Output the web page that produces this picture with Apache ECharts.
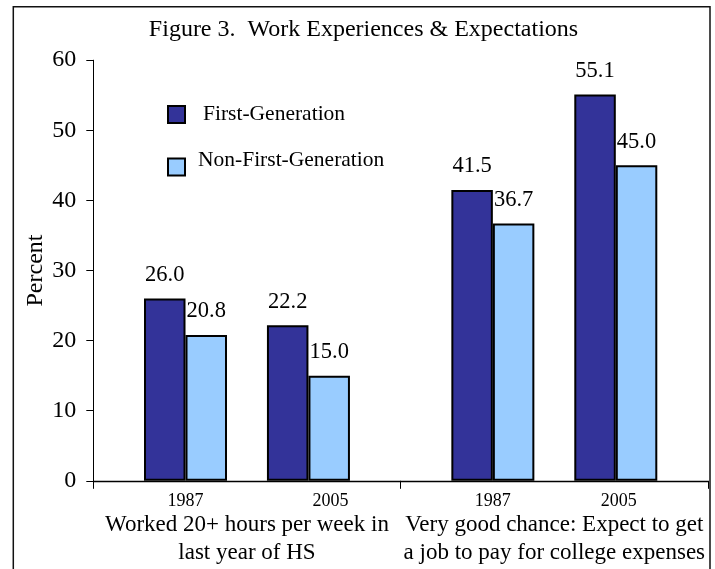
<!DOCTYPE html>
<html>
<head>
<meta charset="utf-8">
<script src="https://cdn.jsdelivr.net/npm/echarts@6/dist/echarts.min.js"></script>
<style>
html,body{margin:0;padding:0;background:#fff;}
#chart{width:715px;height:569px;}
</style>
</head>
<body>
<div id="chart"></div>
<script>
// ---- data ----
const titleText = 'Figure 3.  Work Experiences & Expectations';
const years = ['1987', '2005', '1987', '2005'];
const groupLabels = ['Worked 20+ hours per week in\nlast year of HS', 'Very good chance: Expect to get\na job to pay for college expenses'];
const seriesNames = ['First-Generation', 'Non-First-Generation'];
const firstGen = [26.0, 22.2, 41.5, 55.1];
const nonFirstGen = [20.8, 15.0, 36.7, 45.0];
const yTicks = [0, 10, 20, 30, 40, 50, 60];

// ---- layout (slot positions on a 10-slot category band) ----
const SLOT_COUNT = 10;
const slots = [1, 3, 6, 8];
const yearLabelShift = [0, 44, 0, 6]; // left padding to nudge year labels as in the source

const axisData = new Array(SLOT_COUNT).fill('');
slots.forEach((s, i) => {
  axisData[s] = { value: years[i], textStyle: { padding: [0, 0, 0, yearLabelShift[i]] } };
});
function place(vals) {
  const arr = new Array(SLOT_COUNT).fill('-');
  slots.forEach((s, i) => { arr[s] = vals[i]; });
  return arr;
}

const FONT = "'Liberation Serif', 'Times New Roman', serif";
const chart = echarts.init(document.getElementById('chart'));

const labelCfg = {
  show: true, position: 'top', distance: 12,
  fontFamily: FONT, fontSize: 22.5, color: '#000',
  formatter: p => (typeof p.value === 'number' ? p.value.toFixed(1) : '')
};

chart.setOption({
  animation: false,
  backgroundColor: '#fff',
  title: {
    text: titleText, left: 363.5, top: 18, textAlign: 'center', padding: 0,
    textStyle: { fontFamily: FONT, fontSize: 24, fontWeight: 'normal', color: '#000' }
  },
  legend: [
    {
      data: [{ name: seriesNames[0], textStyle: { padding: [0, 0, 0, 13] } }],
      left: 167, top: 103.5, orient: 'vertical', padding: 0,
      itemWidth: 17, itemHeight: 17, icon: 'rect',
      textStyle: { fontFamily: FONT, fontSize: 21.5, color: '#000' }
    },
    {
      data: [seriesNames[1]],
      left: 167, top: 149, orient: 'vertical', padding: 0,
      itemWidth: 17, itemHeight: 17, icon: 'rect',
      formatter: '{a|{name}}',
      textStyle: {
        fontFamily: FONT, fontSize: 21.5, color: '#000', padding: [0, 0, 0, 8],
        rich: { a: { fontFamily: FONT, fontSize: 21.5, color: '#000', padding: [0, 0, 14, 0], verticalAlign: 'bottom' } }
      }
    }
  ],
  grid: { left: 93.3, right: 7, top: 60.2, bottom: 88.2, containLabel: false },
  xAxis: [
    {
      type: 'category', data: axisData, gridIndex: 0,
      axisLine: { show: true, lineStyle: { color: '#000', width: 1.4 } },
      axisTick: { show: false },
      axisLabel: { interval: 0, margin: 11, fontFamily: FONT, fontSize: 18, color: '#000' },
      splitLine: { show: false }
    },
    {
      type: 'category', data: groupLabels, gridIndex: 0, position: 'bottom',
      axisLine: { show: false },
      axisTick: { show: true, length: 8, lineStyle: { color: '#000', width: 1 } },
      axisLabel: { interval: 0, margin: 30, lineHeight: 28, fontFamily: FONT, fontSize: 23, color: '#000' },
      splitLine: { show: false }
    }
  ],
  yAxis: {
    type: 'value', min: yTicks[0], max: yTicks[yTicks.length - 1], interval: 10,
    name: 'Percent', nameLocation: 'middle', nameGap: 46, nameRotate: 90, nameMoveOverlap: false,
    nameTextStyle: { fontFamily: FONT, fontSize: 24, color: '#000' },
    axisLine: { show: true, lineStyle: { color: '#000', width: 1 } },
    axisTick: { show: true, length: 7, inside: false, lineStyle: { color: '#000' } },
    axisLabel: { margin: 17, fontFamily: FONT, fontSize: 24, color: '#000' },
    splitLine: { show: false }
  },
  series: [
    {
      name: seriesNames[0], type: 'bar', xAxisIndex: 0, data: place(firstGen),
      barWidth: 41.5, barGap: '0%',
      itemStyle: { color: '#333399', borderColor: '#000', borderWidth: 2 },
      label: labelCfg
    },
    {
      name: seriesNames[1], type: 'bar', xAxisIndex: 0, data: place(nonFirstGen),
      barWidth: 41.5, barGap: '0%',
      itemStyle: { color: '#99CCFF', borderColor: '#000', borderWidth: 2 },
      label: labelCfg
    }
  ],
  graphic: [{
    type: 'rect', silent: true, z: 100,
    shape: { x: 13.3, y: 6.7, width: 696.7, height: 600 },
    style: { fill: 'none', stroke: '#111', lineWidth: 1.5 }
  }]
});
</script>
</body>
</html>
